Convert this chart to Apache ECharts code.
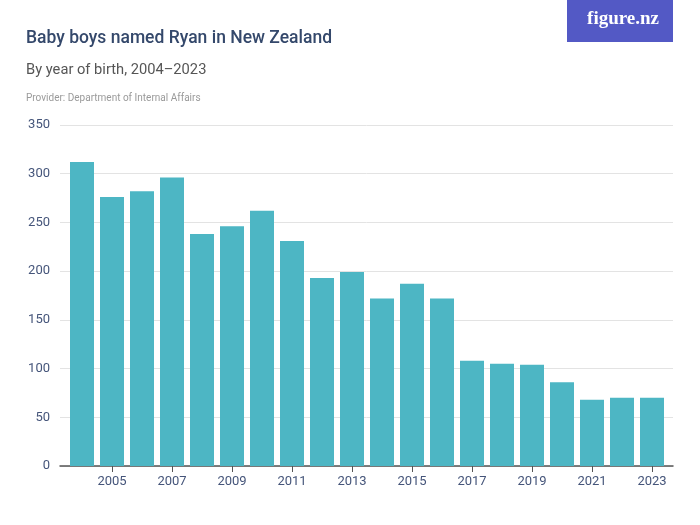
<!DOCTYPE html>
<html>
<head>
<meta charset="utf-8">
<script src="https://cdn.jsdelivr.net/npm/echarts@6/dist/echarts.min.js"></script>
<style>
  html, body { margin: 0; padding: 0; background: #fff; }
  #chart { width: 700px; height: 525px; }
</style>
</head>
<body>
<div id="chart"></div>
<script>
// years and counts
const years = ['2004', '2005', '2006', '2007', '2008', '2009', '2010', '2011', '2012', '2013',
  '2014', '2015', '2016', '2017', '2018', '2019', '2020', '2021', '2022', '2023']
const counts = [312, 276, 282, 296, 238, 246, 262, 231, 193, 199,
  172, 187, 172, 108, 105, 104, 86, 68, 70, 70]
const yTicks = [0, 50, 100, 150, 200, 250, 300, 350]

const font = 'Roboto, "Liberation Sans", sans-serif'
const labelColor = '#45557a'

const chart = echarts.init(document.getElementById('chart'))

const option = {
  animation: false,
  title: [
    {
      text: 'Baby boys named Ryan in New Zealand',
      left: 21, top: 25,
      textStyle: { fontFamily: font, fontSize: 17.5, fontWeight: 500, color: '#34486b' }
    },
    {
      text: 'By year of birth, 2004\u20132023',
      left: 21, top: 58,
      textStyle: { fontFamily: font, fontSize: 14.7, fontWeight: 'normal', color: '#555' }
    },
    {
      text: 'Provider: Department of Internal Affairs',
      left: 21, top: 88,
      textStyle: { fontFamily: font, fontSize: 10, fontWeight: 'normal', color: '#9a9a9a' }
    }
  ],
  graphic: [
    {
      type: 'rect', right: 27, top: 0,
      shape: { width: 106, height: 42 },
      style: { fill: '#5359c5' }
    },
    {
      type: 'text', right: 41, top: 10,
      style: { text: 'figure.nz', fill: '#fff', font: 'bold 19px "Liberation Serif", serif' }
    }
  ],
  grid: [
    { left: 60, right: 27, top: 125, bottom: 59 },
    { left: 67, right: 33, top: 125, bottom: 59 }
  ],
  xAxis: [
    {
      type: 'value', gridIndex: 0, min: 0, max: 1,
      axisLine: { show: true, onZero: false, lineStyle: { color: '#555', width: 1.5 } },
      axisTick: { show: false }, axisLabel: { show: false }, splitLine: { show: false }
    },
    {
      type: 'category', gridIndex: 1, data: years,
      axisLine: { show: false },
      axisTick: {
        show: true, alignWithLabel: true, length: 6,
        interval: (i) => i % 2 === 1,
        lineStyle: { color: '#555' }
      },
      axisLabel: {
        interval: (i) => i % 2 === 1,
        fontFamily: font, fontSize: 13, color: labelColor, margin: 9
      }
    }
  ],
  yAxis: [
    {
      type: 'value', gridIndex: 0, min: yTicks[0], max: yTicks[yTicks.length - 1], interval: 50,
      axisLine: { show: false }, axisTick: { show: false },
      axisLabel: { fontFamily: font, fontSize: 13, color: labelColor, margin: 10 },
      splitLine: { lineStyle: { color: '#e3e3e3', width: 1 } }
    },
    {
      type: 'value', gridIndex: 1, min: yTicks[0], max: yTicks[yTicks.length - 1], interval: 50,
      show: false, splitLine: { show: false }
    }
  ],
  series: [
    {
      type: 'bar', xAxisIndex: 1, yAxisIndex: 1,
      data: counts, barWidth: 24,
      itemStyle: { color: '#4db6c4' }
    }
  ]
}

chart.setOption(option)
</script>
</body>
</html>
